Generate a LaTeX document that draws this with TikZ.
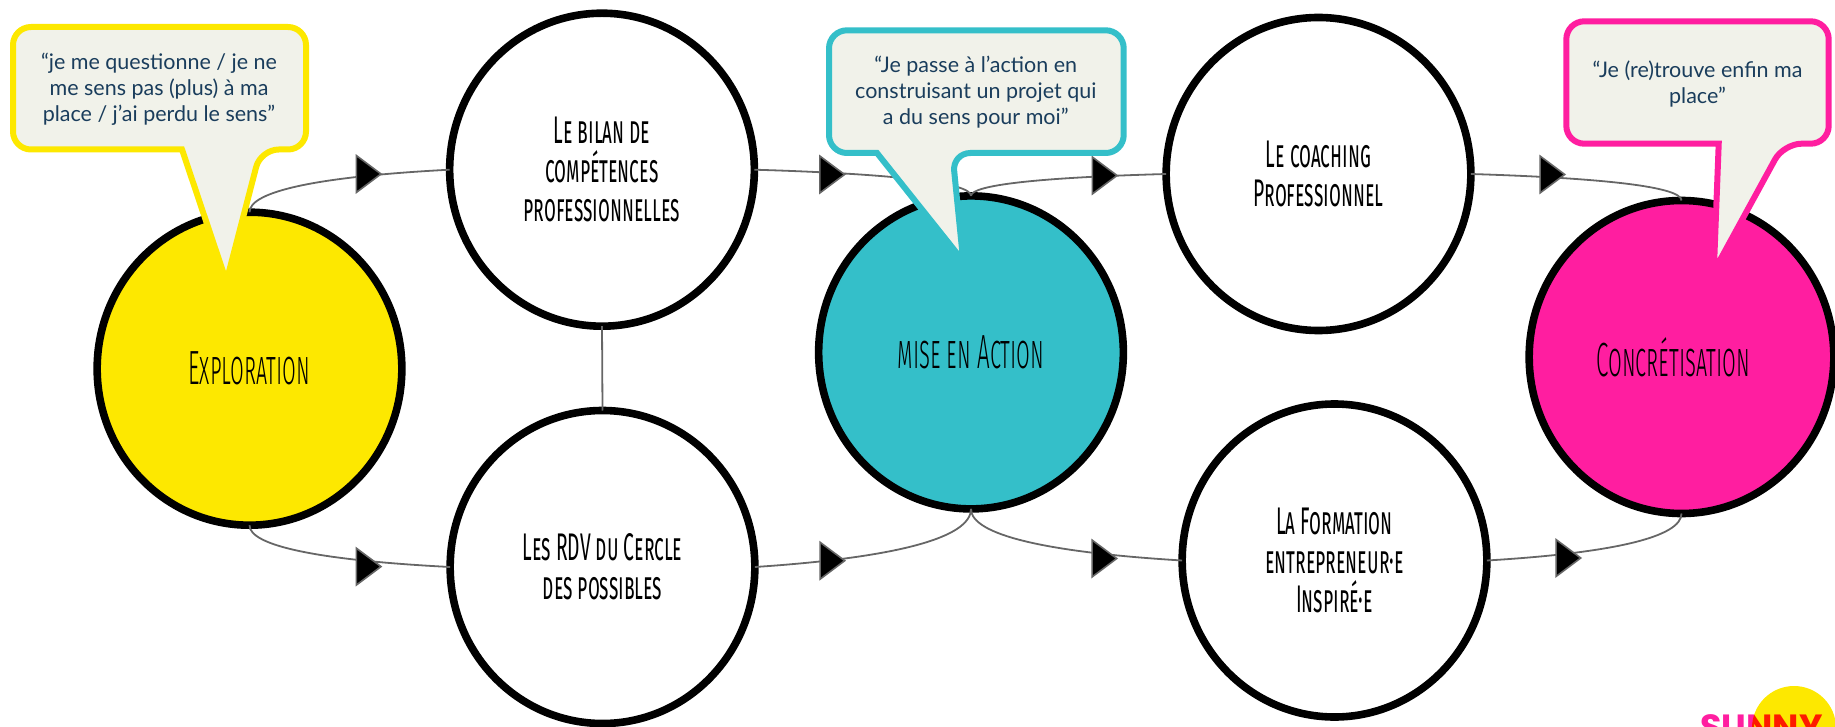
\documentclass[tikz,border=0pt]{standalone}
\usepackage{fontspec}
\usetikzlibrary{shapes.geometric,calc}
\setmainfont{Lato}
\newfontfamily\amw[FakeStretch=0.50,Letters=SmallCaps]{Fira Sans}
\newfontfamily\amc[FakeStretch=0.465,Letters=SmallCaps]{Fira Sans Light}
\newfontfamily\bubblefont{Lato}
\newfontfamily\logofont{Poppins Bold}
\definecolor{cyel}{HTML}{FDE800}
\definecolor{cteal}{HTML}{34BFC9}
\definecolor{cpink}{HTML}{FF1EA0}
\definecolor{cbub}{HTML}{F1F2EA}
\definecolor{cbtx}{HTML}{1A3D5C}
\definecolor{clink}{HTML}{666666}
\tikzset{
  circ/.style={shape=ellipse,draw=black,line width=7.6pt,outer sep=0pt,inner sep=0pt,
    minimum width=304.7pt,minimum height=313pt,align=center,text=black},
  whitecirc/.style={circ,fill=white,font=\amw\fontsize{38.5}{39}\selectfont},
  colcirc/.style={circ,font=\amc\fontsize{48}{48}\selectfont},
  link/.style={draw=clink,line width=1.8pt},
  tipmark/.style={fill=black,draw=clink,line width=1.6pt,line join=miter},
  bubble/.style={fill=cbub,line width=6pt,line join=miter,miter limit=10},
  bubtext/.style={text=cbtx,align=center,inner sep=0pt,font=\bubblefont\fontsize{21.5}{26}\selectfont}
}
\newcommand{\tipat}[1]{\draw[tipmark] ($(#1)+(-12.6,-18.4)$) -- ($(#1)+(12,0)$) -- ($(#1)+(-12.6,18.4)$) -- cycle;}
\begin{document}
\begin{tikzpicture}[x=1pt,y=-1pt]
\path[use as bounding box] (0,0) rectangle (1835,727);
\clip (0,0) rectangle (1835,727);
% logo
\fill[cyel] (1794,728) circle (42);
\begin{scope}[blend mode=multiply]
\node[anchor=base west,inner sep=0pt,text=cpink,font=\logofont\fontsize{35}{35}\selectfont] (logo) at (1700,739.5) {SUNNY};
\end{scope}
% circles
\node[colcirc,fill=cyel] (ex) at (249.5,368.7) {Exploration};
\node[whitecirc] (bi) at (602,169.7) {Le bilan de\\compétences\\professionnelles};
\node[whitecirc] (rd) at (602.5,567) {Les RDV du Cercle\\des possibles};
\node[colcirc,fill=cteal] (mi) at (971,352.4) {mise en Action};
\node[whitecirc] (ca) at (1318.5,174) {Le coaching\\Professionnel};
\node[whitecirc] (fo) at (1334.5,560.5) {La Formation\\entrepreneur·e\\Inspiré·e};
\node[colcirc,fill=cpink] (cn) at (1681.5,357) {\hspace*{-16pt}Concrétisation};
% connectors
\draw[link] (ex.north) .. controls (249.5,191) and (319.6,176.5) .. (bi.west);
\draw[link] (bi.east) .. controls (895.2,173.9) and (971,182.8) .. (mi.north);
\draw[link] (mi.north) .. controls (971,185) and (1039.3,177.5) .. (ca.west);
\draw[link] (ca.east) .. controls (1607.8,178.2) and (1681.5,187.2) .. (cn.north);
\draw[link] (ex.south) .. controls (249.5,546) and (319.7,560.3) .. (rd.west);
\draw[link] (rd.east) .. controls (895.3,557.7) and (971,538) .. (mi.south);
\draw[link] (mi.south) .. controls (971,534.7) and (1044.9,552.2) .. (fo.west);
\draw[link] (fo.east) .. controls (1613.4,552.9) and (1681.5,537) .. (cn.south);
\draw[link] (bi.south) -- (rd.north);
% arrow marks
\coordinate (t1) at (369,174);
\coordinate (t2) at (832.5,174.5);
\coordinate (t3) at (1105,175.5);
\coordinate (t4) at (1552.7,174.5);
\coordinate (t5) at (369,566.6);
\coordinate (t6) at (832.7,560.7);
\coordinate (t7) at (1104.7,558.5);
\coordinate (t8) at (1568.7,558);
\tipat{t1}\tipat{t2}\tipat{t3}\tipat{t4}\tipat{t5}\tipat{t6}\tipat{t7}\tipat{t8}
% bubbles
\draw[bubble,draw=cyel] (226.4,281.7) -- (182,149.5) [rounded corners=18] -- (13,149.5) -- (13,27) -- (306,27) -- (306,149.5) -- (260.7,149.5) [sharp corners] -- cycle;
\draw[bubble,draw=cteal] (963.2,261.2) -- (877,153) [rounded corners=18] -- (829,153) -- (829,30.3) -- (1123.7,30.3) -- (1123.7,153) -- (952.4,153) [sharp corners] -- cycle;
\draw[bubble,draw=cpink] (1713.8,271.5) -- (1718.7,143.7) [rounded corners=18] -- (1566.3,143.7) -- (1566.3,21.3) -- (1828.7,21.3) -- (1828.7,143.7) -- (1783.6,143.7) [sharp corners] -- cycle;
\node[bubtext] (by) at (159,89.5) {“je me questionne / je ne\\me sens pas (plus) à ma\\place / j’ai perdu le sens”};
\node[bubtext] (bt) at (975.8,92.5) {“Je passe à l’action en\\construisant un projet qui\\a du sens pour moi”};
\node[bubtext] (bp) at (1697.5,84) {“Je (re)trouve enfin ma\\place”};
\end{tikzpicture}
\end{document}
